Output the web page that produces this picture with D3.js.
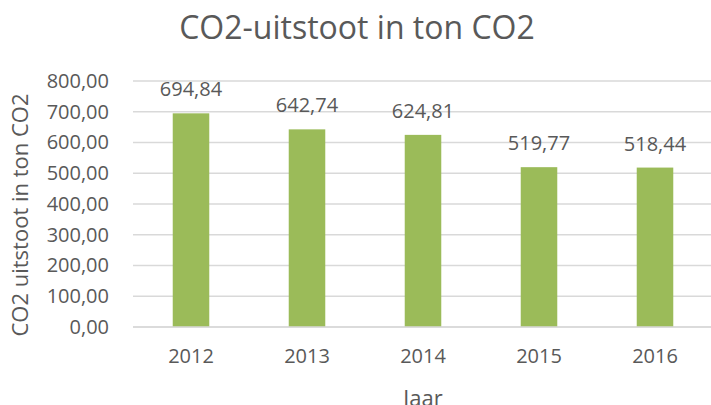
<!DOCTYPE html>
<html>
<head>
<meta charset="utf-8">
<script src="https://cdn.jsdelivr.net/npm/d3@7"></script>
<style>
  body { margin: 0; background: #fff; }
  text { font-family: "Open Sans", sans-serif; fill: #595959; }
</style>
</head>
<body>
<svg id="chart" width="711" height="405"></svg>
<script>
// data
var years = ["2012", "2013", "2014", "2015", "2016"];
var uitstoot = [694.84, 642.74, 624.81, 519.77, 518.44];
var yTicks = [0, 100, 200, 300, 400, 500, 600, 700, 800];

var svg = d3.select("#chart");
var plotLeft = 133, plotRight = 713, plotTop = 81, plotBottom = 327;

var fmt = function (v) { return d3.format(".2f")(v).replace(".", ","); };

var x = d3.scaleBand().domain(years).range([plotLeft, plotRight]).paddingInner(0.685).paddingOuter(0.3425);
var y = d3.scaleLinear().domain([0, 800]).range([plotBottom, plotTop]);

// gridlines
svg.append("g").selectAll("line")
  .data(yTicks)
  .enter().append("line")
  .attr("x1", plotLeft).attr("x2", plotRight)
  .attr("y1", function (d) { return y(d); })
  .attr("y2", function (d) { return y(d); })
  .attr("stroke", "#d9d9d9")
  .attr("stroke-width", 1.3);

// y axis labels
var yAxis = svg.append("g")
  .attr("transform", "translate(" + (plotLeft - 24) + ",0)")
  .call(d3.axisLeft(y).tickValues(yTicks).tickFormat(fmt).tickSize(0).tickPadding(0));
yAxis.select(".domain").remove();
yAxis.selectAll("text").style("font-size", "20px").attr("fill", "#595959");

// x axis labels
var xAxis = svg.append("g")
  .attr("transform", "translate(0," + plotBottom + ")")
  .call(d3.axisBottom(x).tickSize(0).tickPadding(22));
xAxis.select(".domain").remove();
xAxis.selectAll("text").style("font-size", "20px").attr("fill", "#595959");

// bars
svg.append("g").selectAll("rect")
  .data(uitstoot)
  .enter().append("rect")
  .attr("x", function (d, i) { return x(years[i]); })
  .attr("width", x.bandwidth())
  .attr("y", function (d) { return y(d); })
  .attr("height", function (d) { return y(0) - y(d); })
  .attr("fill", "#9bbb59");

// baseline
svg.append("line")
  .attr("x1", plotLeft).attr("x2", plotRight)
  .attr("y1", y(0)).attr("y2", y(0))
  .attr("stroke", "#d9d9d9").attr("stroke-width", 1.5);

// value labels
svg.append("g").selectAll("text")
  .data(uitstoot)
  .enter().append("text")
  .attr("x", function (d, i) { return x(years[i]) + x.bandwidth() / 2; })
  .attr("y", function (d) { return y(d) - 17; })
  .attr("text-anchor", "middle")
  .style("font-size", "20px")
  .text(fmt);

// titles
svg.append("text")
  .attr("x", 357).attr("y", 39)
  .attr("text-anchor", "middle")
  .style("font-size", "32px")
  .text("CO2-uitstoot in ton CO2");

svg.append("text")
  .attr("x", (plotLeft + plotRight) / 2).attr("y", 406)
  .attr("text-anchor", "middle")
  .style("font-size", "22px")
  .text("Jaar");

svg.append("text")
  .attr("transform", "translate(28,215) rotate(-90)")
  .attr("text-anchor", "middle")
  .style("font-size", "22px")
  .text("CO2 uitstoot in ton CO2");
</script>
</body>
</html>
